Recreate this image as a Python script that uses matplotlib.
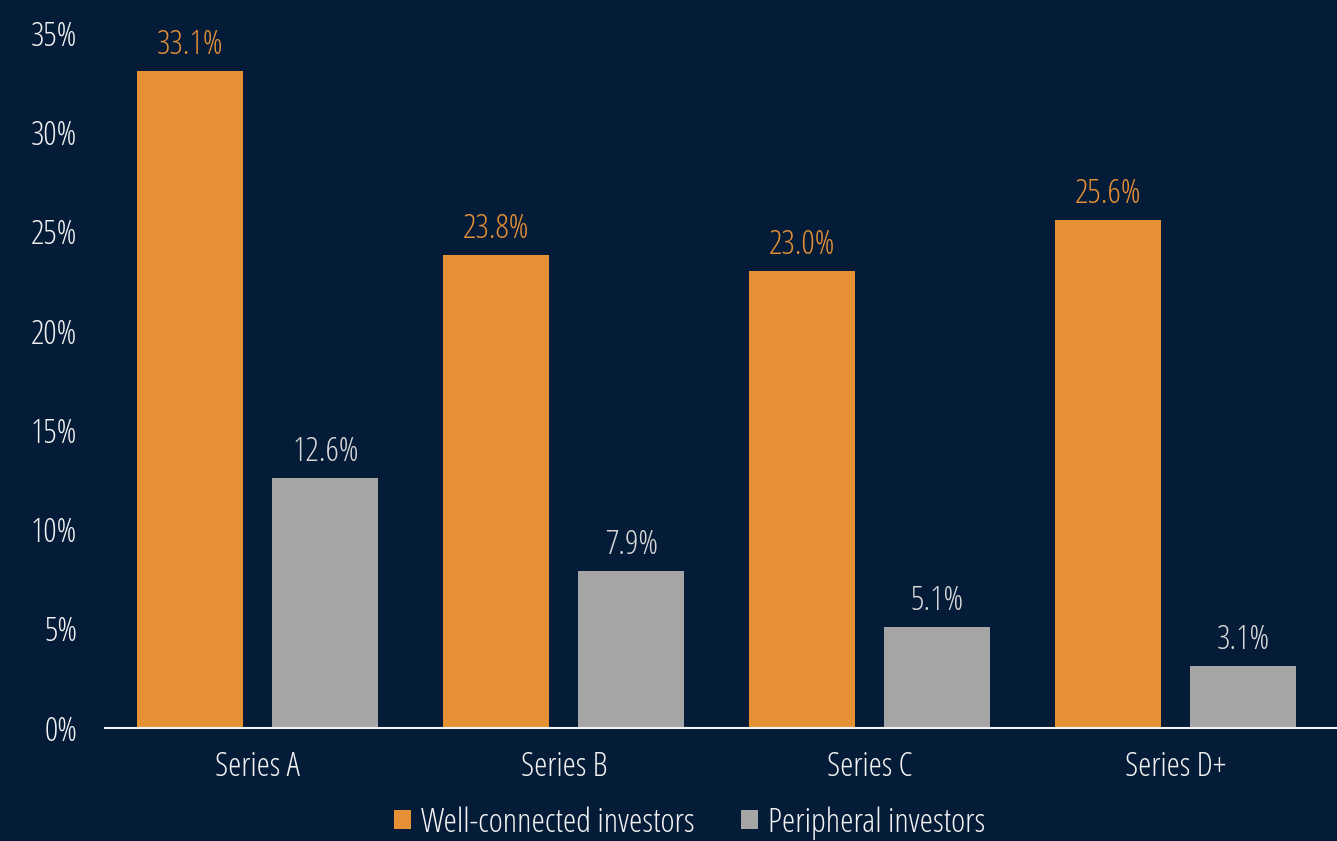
import matplotlib.pyplot as plt
import numpy as np
from matplotlib.ticker import FuncFormatter

# Share of deals by funding round
rounds = ["Series A", "Series B", "Series C", "Series D+"]
well_connected = [33.1, 23.8, 23.0, 25.6]
peripheral = [12.6, 7.9, 5.1, 3.1]
series_names = ["Well-connected investors", "Peripheral investors"]

BG = "#051c38"
ORANGE = "#e69036"
GREY = "#a5a5a5"
TEXT = "#f2f2f2"
FS = 24

plt.rcParams['font.family'] = ['Open Sans', 'DejaVu Sans']
plt.rcParams['font.stretch'] = 'condensed'
plt.rcParams['font.weight'] = 'light'

fig = plt.figure(figsize=(13.37, 8.41), dpi=100, facecolor=BG)
ax = fig.add_axes([0.0785, 0.1344, 0.9215, 0.8264], facecolor=BG)

x = np.arange(len(rounds))
w = 0.346
off = 0.2206
b1 = ax.bar(x - off, well_connected, w, color=ORANGE, label=series_names[0])
b2 = ax.bar(x + off, peripheral, w, color=GREY, label=series_names[1])

for rect, v in zip(b1, well_connected):
    ax.text(rect.get_x() + rect.get_width() / 2, v + 0.45, f"{v:.1f}%",
            ha="center", va="bottom", color=ORANGE, fontsize=FS)
for rect, v in zip(b2, peripheral):
    ax.text(rect.get_x() + rect.get_width() / 2, v + 0.45, f"{v:.1f}%",
            ha="center", va="bottom", color="#d9d9d9", fontsize=FS)

# axis line runs a little past the last group
ax.set_xlim(-0.5, len(rounds) - 0.472)
ax.set_ylim(0, 35)
ax.set_yticks(np.arange(0, 36, 5))
ax.yaxis.set_major_formatter(FuncFormatter(lambda v, p: f"{v:.0f}%"))
ax.set_xticks(x)
ax.set_xticklabels(rounds)
ax.tick_params(axis="both", length=0, colors=TEXT, labelsize=FS)
ax.tick_params(axis="y", pad=20)
ax.tick_params(axis="x", pad=16)

for s in ["top", "right", "left"]:
    ax.spines[s].set_visible(False)
ax.spines["bottom"].set_color(TEXT)
ax.spines["bottom"].set_linewidth(1.5)

leg = fig.legend(loc="lower center", bbox_to_anchor=(0.516, -0.035), ncol=2,
                 frameon=False, fontsize=24.5, handlelength=0.5, handleheight=0.5,
                 handletextpad=0.3, columnspacing=1.35)
for t in leg.get_texts():
    t.set_color(TEXT)

fig.savefig("out.png", dpi=100, facecolor=BG)
